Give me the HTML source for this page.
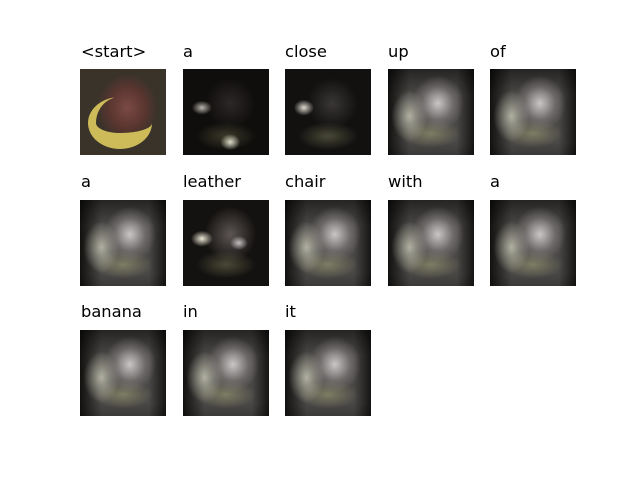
<!DOCTYPE html>
<html><head><meta charset="utf-8"><style>
body{margin:0;width:640px;height:480px;background:#fff;position:relative;overflow:hidden;font-family:"DejaVu Sans","Liberation Sans",sans-serif}
.t{position:absolute;font-size:16.3px;color:#000;line-height:1}
.im{position:absolute;width:86px;height:86px;overflow:hidden;background:#141210}
.orig{background:radial-gradient(ellipse 30px 34px at 55% 45%,#7a4a44 0%,#5a3530 60%,#3a332a 100%),#2b2a1e}
.ban{position:absolute;left:8px;top:28px;width:64px;height:52px;border-radius:50%;border:0 solid #cdbb5a;border-bottom-width:16px;border-left-width:8px;box-sizing:border-box}
.att{background:
 radial-gradient(ellipse 26px 28px at 58% 40%,rgba(225,220,220,.85),rgba(150,145,145,.45) 60%,rgba(0,0,0,0) 100%),
 radial-gradient(ellipse 18px 26px at 25% 55%,rgba(220,220,200,.7),rgba(0,0,0,0)),
 radial-gradient(ellipse 30px 14px at 50% 75%,rgba(160,160,120,.6),rgba(0,0,0,0)),
 linear-gradient(180deg,rgba(0,0,0,.5) 0%,rgba(0,0,0,0) 30%,rgba(0,0,0,0) 85%,rgba(0,0,0,.2) 100%),
 linear-gradient(90deg,#121110 0%,#4a4846 25%,#4a4846 80%,#151413 100%)}
.dim{background:
 radial-gradient(ellipse 10px 7px at 22% 45%,rgba(230,225,215,.8),rgba(0,0,0,0)),
 radial-gradient(ellipse 10px 8px at 55% 85%,rgba(240,240,220,.9),rgba(0,0,0,0)),
 radial-gradient(ellipse 30px 14px at 50% 78%,rgba(100,100,70,.5),rgba(0,0,0,0)),
 radial-gradient(ellipse 25px 25px at 55% 40%,rgba(70,65,65,.5),rgba(0,0,0,0)),
 #100e0c}
</style></head><body>
<div class="t" style="left:81px;top:44px">&lt;start&gt;</div>
<div class="t" style="left:183px;top:44px">a</div>
<div class="t" style="left:285px;top:44px">close</div>
<div class="t" style="left:388px;top:44px">up</div>
<div class="t" style="left:490px;top:44px">of</div>
<div class="t" style="left:81px;top:174px">a</div>
<div class="t" style="left:183px;top:174px">leather</div>
<div class="t" style="left:285px;top:174px">chair</div>
<div class="t" style="left:388px;top:174px">with</div>
<div class="t" style="left:490px;top:174px">a</div>
<div class="t" style="left:81px;top:304px">banana</div>
<div class="t" style="left:183px;top:304px">in</div>
<div class="t" style="left:285px;top:304px">it</div>

<div class="im orig" style="left:80px;top:69px"><div class="ban"></div></div>
<div class="im dim" style="left:183px;top:69px"></div>
<div class="im dim" style="left:285px;top:69px;background:radial-gradient(ellipse 10px 8px at 22% 45%,rgba(245,240,230,.9),rgba(0,0,0,0)),radial-gradient(ellipse 30px 14px at 50% 78%,rgba(110,110,80,.6),rgba(0,0,0,0)),radial-gradient(ellipse 25px 25px at 55% 40%,rgba(90,85,85,.55),rgba(0,0,0,0)),#121110"></div>
<div class="im att" style="left:388px;top:69px"></div>
<div class="im att" style="left:490px;top:69px"></div>
<div class="im att" style="left:80px;top:200px"></div>
<div class="im dim" style="left:183px;top:200px;background:radial-gradient(ellipse 11px 8px at 22% 45%,rgba(250,245,225,.95),rgba(0,0,0,0)),radial-gradient(ellipse 9px 7px at 65% 50%,rgba(230,225,225,.8),rgba(0,0,0,0)),radial-gradient(ellipse 26px 28px at 55% 40%,rgba(140,130,130,.6),rgba(0,0,0,0)),radial-gradient(ellipse 30px 14px at 50% 75%,rgba(110,110,80,.6),rgba(0,0,0,0)),#141210"></div>
<div class="im att" style="left:285px;top:200px"></div>
<div class="im att" style="left:388px;top:200px"></div>
<div class="im att" style="left:490px;top:200px"></div>
<div class="im att" style="left:80px;top:330px"></div>
<div class="im att" style="left:183px;top:330px"></div>
<div class="im att" style="left:285px;top:330px"></div>
</body></html>
